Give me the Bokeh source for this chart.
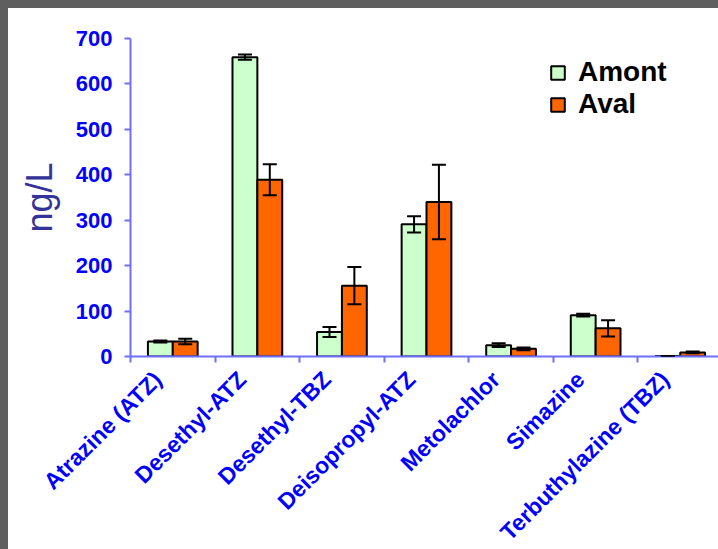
import math
from bokeh.plotting import figure
from bokeh.models import (Range1d, FixedTicker, ColumnDataSource, Whisker, TeeHead,
                          Legend, LegendItem)
from bokeh.embed import file_html
from bokeh.resources import INLINE

categories = ["Atrazine (ATZ)", "Desethyl-ATZ", "Desethyl-TBZ", "Deisopropyl-ATZ",
              "Metolachlor", "Simazine", "Terbuthylazine (TBZ)"]
amont = [33, 659, 54, 291, 25, 91, 1]
amont_err = [2, 6, 11, 18, 4, 3, 0]
aval = [33, 389, 156, 340, 17, 62, 9]
aval_err = [6, 34, 41, 82, 3, 18, 2]
y_ticks = [0, 100, 200, 300, 400, 500, 600, 700]
series_names = ["Amont", "Aval"]

FONT = "Liberation Sans"
AXIS_COLOR = "#6f6fff"
LABEL_COLOR = "#0000ff"
BAR_W = 0.294
LABEL_SHIFT = 0.18  # labels sit slightly left of the category centre

idx = list(range(len(categories)))
src_a = ColumnDataSource(dict(
    x=[i - BAR_W / 2 for i in idx], top=amont,
    upper=[v + e for v, e in zip(amont, amont_err)],
    lower=[v - e for v, e in zip(amont, amont_err)]))
src_v = ColumnDataSource(dict(
    x=[i + BAR_W / 2 for i in idx], top=aval,
    upper=[v + e for v, e in zip(aval, aval_err)],
    lower=[v - e for v, e in zip(aval, aval_err)]))

p = figure(width=718, height=549, output_backend="svg", toolbar_location=None,
           x_range=Range1d(-0.5, len(categories) - 0.5), y_range=Range1d(0, 700),
           min_border_left=122, min_border_right=4, min_border_top=30,
           min_border_bottom=195)
p.styles = {"border-top": "8px solid #5f5f5f", "border-left": "8px solid #5f5f5f"}
p.outline_line_color = None
p.grid.visible = False
p.background_fill_color = "white"
p.border_fill_color = "white"

r1 = p.vbar(x="x", top="top", bottom=0, width=BAR_W, source=src_a,
            fill_color="#ccffcc", line_color="black", line_width=2)
r2 = p.vbar(x="x", top="top", bottom=0, width=BAR_W, source=src_v,
            fill_color="#ff6600", line_color="black", line_width=2)

for src in (src_a, src_v):
    w = Whisker(base="x", upper="upper", lower="lower", source=src,
                line_color="black", line_width=2, level="overlay",
                upper_head=TeeHead(size=14, line_color="black", line_width=2),
                lower_head=TeeHead(size=14, line_color="black", line_width=2))
    p.add_layout(w)

# x axis
label_ticks = [round(i - LABEL_SHIFT, 3) for i in idx]
xa = p.xaxis[0]
xa.ticker = FixedTicker(ticks=label_ticks,
                        minor_ticks=[i - 0.5 for i in range(len(categories) + 1)])
xa.major_label_overrides = {t: c for t, c in zip(label_ticks, categories)}
xa.major_label_orientation = math.pi / 4
xa.major_label_text_font = FONT
xa.major_label_text_font_style = "bold"
xa.major_label_text_font_size = "23px"
xa.major_label_text_color = LABEL_COLOR
xa.major_tick_line_color = None
xa.major_tick_in = 0
xa.major_tick_out = 6
xa.minor_tick_line_color = AXIS_COLOR
xa.minor_tick_in = 0
xa.minor_tick_out = 6
xa.minor_tick_line_width = 2
xa.axis_line_color = AXIS_COLOR
xa.axis_line_width = 2
xa.major_label_standoff = 13

# y axis
ya = p.yaxis[0]
ya.ticker = FixedTicker(ticks=y_ticks)
ya.major_label_text_font = FONT
ya.major_label_text_font_style = "bold"
ya.major_label_text_font_size = "22px"
ya.major_label_text_color = LABEL_COLOR
ya.major_tick_line_color = AXIS_COLOR
ya.major_tick_line_width = 2
ya.major_tick_in = 0
ya.major_tick_out = 6
ya.minor_tick_line_color = None
ya.axis_line_color = AXIS_COLOR
ya.axis_line_width = 2
ya.major_label_standoff = 12
ya.axis_label = "ng/L"
ya.axis_label_text_font = FONT
ya.axis_label_text_font_style = "normal"
ya.axis_label_text_font_size = "36px"
ya.axis_label_text_color = "#333399"
ya.axis_label_standoff = 13

# one legend per series so the row spacing can be controlled
for name, rend, loc in zip(series_names, (r1, r2), ((419, 268), (419, 236))):
    lg = Legend(items=[LegendItem(label=name, renderers=[rend])],
                location=loc, orientation="vertical",
                glyph_width=17, glyph_height=17, label_standoff=12,
                label_text_font=FONT, label_text_font_style="bold",
                label_text_font_size="28px", label_text_color="black",
                spacing=0, padding=0, margin=0,
                border_line_alpha=0, background_fill_alpha=0)
    p.add_layout(lg)

open("out.html", "w").write(file_html(p, INLINE))
